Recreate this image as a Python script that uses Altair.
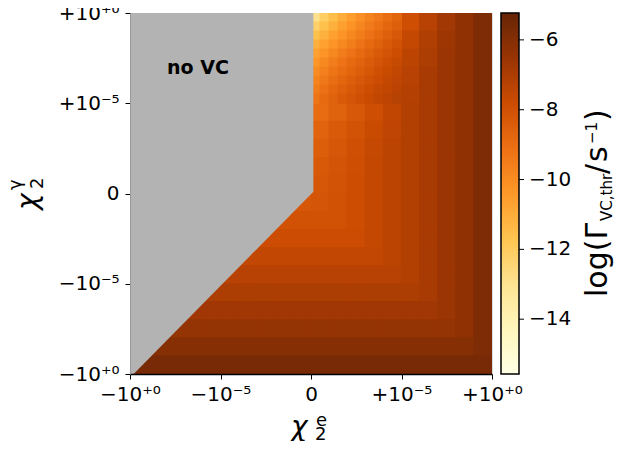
import altair as alt
import numpy as np
import pandas as pd

# ---- data -----------------------------------------------------------------
# cell centres in symlog axis units (-10 = -10^0, -5 = -10^-5, 0, +5 = +10^-5, +10 = +10^0)
U_CENTERS = [-9.5, -8.5, -7.5, -6.5, -5.5, -4.5, -3.5, -2.5, -1.5, -0.5,
             0.5, 1.5, 2.5, 3.5, 4.5, 5.5, 6.5, 7.5, 8.5, 9.5]
V_UPPER = [9.5, 8.5, 7.5, 6.5, 5.5, 4.5, 3.5, 2.5, 1.5, 0.5]
V_LOWER = [-0.5, -1.5, -2.5, -3.5, -4.5, -5.5, -6.5, -7.5, -8.5, -9.5]

N = None
# log(Gamma) for chi_e > 0, chi_gamma > 0 (columns u = 0.5 .. 9.5);
# None = given at finer resolution in Z_TOPLEFT
Z_UPPER = [
    [N, N, N, N, N, -7.9, -7.3, -6.75, -6.3, -5.85],
    [N, N, N, N, N, -7.6, -7.1, -6.65, -6.3, -5.85],
    [N, N, N, N, N, -7.4, -7.0, -6.6, -6.3, -5.85],
    [N, N, N, N, N, -7.3, -6.9, -6.6, -6.3, -5.85],
    [N, N, N, N, N, -7.2, -6.9, -6.6, -6.3, -5.85],
    [-8.95, -8.6, -8.25, -7.9, -7.5, -7.15, -6.9, -6.6, -6.3, -5.85],
    [-8.65, -8.35, -8.05, -7.75, -7.45, -7.15, -6.9, -6.6, -6.3, -5.85],
    [-8.45, -8.2, -7.95, -7.65, -7.4, -7.15, -6.9, -6.6, -6.3, -5.85],
    [-8.3, -8.1, -7.9, -7.6, -7.4, -7.15, -6.9, -6.6, -6.3, -5.85],
    [-8.2, -8.05, -7.85, -7.6, -7.4, -7.15, -6.9, -6.6, -6.3, -5.85],
]

# finer cells in the light corner (u = 0.25 .. 4.75, v = 9.75 .. 5.25)
U_FINE = [0.25, 0.75, 1.25, 1.75, 2.25, 2.75, 3.25, 3.75, 4.25, 4.75]
V_FINE = [9.75, 9.25, 8.75, 8.25, 7.75, 7.25, 6.75, 6.25, 5.75, 5.25]
Z_TOPLEFT = [
    [-12.9, -12.1, -11.5, -11.0, -10.5, -10.1, -9.7, -9.35, -9.0, -8.7],
    [-12.2, -11.6, -11.1, -10.6, -10.2, -9.8, -9.45, -9.1, -8.8, -8.5],
    [-11.6, -11.1, -10.65, -10.25, -9.85, -9.5, -9.15, -8.85, -8.55, -8.25],
    [-11.1, -10.65, -10.25, -9.9, -9.55, -9.2, -8.9, -8.6, -8.3, -8.0],
    [-10.65, -10.25, -9.85, -9.5, -9.2, -8.9, -8.6, -8.35, -8.1, -7.85],
    [-10.3, -9.9, -9.55, -9.2, -8.9, -8.65, -8.4, -8.15, -7.9, -7.7],
    [-10.0, -9.6, -9.25, -8.95, -8.7, -8.45, -8.2, -7.95, -7.75, -7.55],
    [-9.75, -9.35, -9.0, -8.75, -8.5, -8.25, -8.0, -7.8, -7.6, -7.45],
    [-9.5, -9.1, -8.8, -8.55, -8.3, -8.05, -7.85, -7.65, -7.5, -7.35],
    [-9.25, -8.9, -8.6, -8.35, -8.15, -7.95, -7.75, -7.55, -7.4, -7.25],
]

# log(Gamma) for chi_gamma < 0 (columns u = -9.5 .. 9.5); None = hidden under "no VC"
Z_LOWER = [
    [N, N, N, N, N, N, N, N, -8.2, -8.2,
     -8.15, -8.0, -7.85, -7.6, -7.4, -7.15, -6.9, -6.6, -6.3, -5.85],
    [N, N, N, N, N, N, N, -8.0, -8.0, -8.0,
     -8.0, -8.0, -7.85, -7.6, -7.4, -7.15, -6.9, -6.6, -6.3, -5.85],
    [N, N, N, N, N, N, -7.8, -7.8, -7.8, -7.8,
     -7.8, -7.8, -7.8, -7.6, -7.4, -7.15, -6.9, -6.6, -6.3, -5.85],
    [N, N, N, N, N, -7.55, -7.55, -7.55, -7.55, -7.55,
     -7.55, -7.55, -7.55, -7.55, -7.4, -7.15, -6.9, -6.6, -6.3, -5.85],
    [N, N, N, N, -7.3, -7.3, -7.3, -7.3, -7.3, -7.3,
     -7.3, -7.3, -7.3, -7.3, -7.3, -7.15, -6.9, -6.6, -6.3, -5.85],
    [N, N, N, -7.0, -7.0, -7.0, -7.0, -7.0, -7.0, -7.0,
     -7.0, -7.0, -7.0, -7.0, -7.0, -7.0, -6.9, -6.6, -6.3, -5.85],
    [N, N, -6.7, -6.7, -6.7, -6.7, -6.7, -6.7, -6.7, -6.7,
     -6.7, -6.7, -6.7, -6.7, -6.7, -6.7, -6.7, -6.6, -6.3, -5.85],
    [N, -6.4, -6.4, -6.4, -6.4, -6.4, -6.4, -6.4, -6.4, -6.4,
     -6.4, -6.4, -6.4, -6.4, -6.4, -6.4, -6.4, -6.4, -6.3, -5.85],
    [-6.05, -6.05, -6.05, -6.05, -6.05, -6.05, -6.05, -6.05, -6.05, -6.05,
     -6.05, -6.05, -6.05, -6.05, -6.05, -6.05, -6.05, -6.05, -6.05, -5.85],
    [-5.65, -5.65, -5.65, -5.65, -5.65, -5.65, -5.65, -5.65, -5.65, -5.65,
     -5.65, -5.65, -5.65, -5.65, -5.65, -5.65, -5.65, -5.65, -5.65, -5.65],
]

# boundary of the "no VC" region (lower edge, filled up to the top)
MASK_U = [-10.0, -9.8, 0.13]
MASK_V = [-10.0, -10.0, 0.1]

AXIS_TICKS = [-10, -5, 0, 5, 10]
AXIS_LABELS = ["−10⁺⁰", "−10⁻⁵", "0", "+10⁻⁵", "+10⁺⁰"]
CB_MIN, CB_MAX = -15.57, -5.23
CB_TICKS = [-14, -12, -10, -8, -6]
CB_LABELS = ["−14", "−12", "−10", "−8", "−6"]

YLORBR = ["#ffffe5", "#fff7bc", "#fee391", "#fec44f", "#fe9929",
          "#ec7014", "#cc4c02", "#993404", "#662506"]
FONT = "DejaVu Sans"
OVERLAP = 0.03  # tiny overlap so neighbouring cells leave no hairline seams

# ---- tables ----------------------------------------------------------------
cells = []


def add(us, vs, rows, half):
    for v, row in zip(vs, rows):
        for u, z in zip(us, row):
            if z is not None:
                h = half + OVERLAP
                cells.append(dict(u0=u - h, u1=u + h, v0=v - h, v1=v + h, val=z))


add(U_CENTERS[10:], V_UPPER, Z_UPPER, 0.5)
add(U_CENTERS, V_LOWER, Z_LOWER, 0.5)
add(U_FINE, V_FINE, Z_TOPLEFT, 0.25)
cells = pd.DataFrame(cells)
mask = pd.DataFrame({"u0": MASK_U, "v0": MASK_V})
one = pd.DataFrame({"k": [0]})
cb_ticks = pd.DataFrame({"t": CB_TICKS, "lab": CB_LABELS})

label_expr = " : ".join(
    f"datum.value == {t} ? '{l}'" for t, l in zip(AXIS_TICKS, AXIS_LABELS)
) + " : ''"

W, H = 362, 361
sx = alt.Scale(domain=[-10, 10], nice=False, zero=False)
sy = alt.Scale(domain=[-10, 10], nice=False, zero=False)
common_axis = dict(values=AXIS_TICKS, labelExpr=label_expr, title=None, grid=False,
                   tickColor="black", tickSize=5, tickWidth=1, labelFont=FONT,
                   labelFontSize=20, labelColor="black", labelOverlap=False,
                   labelFlush=False, labelBound=False, zindex=1)
xaxis = alt.Axis(**common_axis, domainColor="black", domainWidth=1.5, labelPadding=5)
yaxis = alt.Axis(**common_axis, domainColor="#999999", domainWidth=1, labelPadding=6)

cdomain = list(np.linspace(CB_MIN, CB_MAX, len(YLORBR)))
cscale = alt.Scale(domain=cdomain, range=YLORBR, interpolate="rgb", clamp=True)

X = lambda f: alt.X(f, scale=sx, axis=xaxis)
Y = lambda f: alt.Y(f, scale=sy, axis=yaxis)

heat = alt.Chart(cells).mark_rect(clip=True, strokeWidth=0).encode(
    x=X("u0:Q"), x2="u1", y=Y("v0:Q"), y2="v1",
    color=alt.Color("val:Q", scale=cscale, legend=None),
)

gray = alt.Chart(mask).mark_area(color="#b3b3b3", opacity=1).encode(
    x=X("u0:Q"), y=Y("v0:Q"), y2=alt.datum(10),
)


def txt(text, x, y, size, angle=0, weight="normal", style="normal"):
    return alt.Chart(one).mark_text(
        text=text, font=FONT, fontSize=size, angle=angle, align="left",
        baseline="alphabetic", color="black", fontWeight=weight, fontStyle=style,
    ).encode(x=alt.value(x), y=alt.value(y))


novc = alt.Chart(one).mark_text(
    text="no VC", font=FONT, fontSize=19, fontWeight="bold", align="left",
    baseline="middle", color="black",
).encode(x=alt.value(37), y=alt.value(55))

xtitle = [txt("χ", 161, 423, 28, style="italic"), txt("2", 185, 427, 18),
          txt("e", 186, 413, 18)]
ytitle = [txt("χ", -93, 197, 28, angle=270, style="italic"),
          txt("2", -87, 176, 18, angle=270),
          txt("γ", -109, 177, 18, angle=270)]

# ---- colour bar (drawn beside the plot, in pixel units) --------------------
CB_X0, CB_X1 = 371, 389
grad = {
    "gradient": "linear", "x1": 0, "y1": 1, "x2": 0, "y2": 0,
    "stops": [{"offset": i / (len(YLORBR) - 1), "color": c} for i, c in enumerate(YLORBR)],
}
cbar = alt.Chart(one).mark_rect(fill=grad, stroke="black", strokeWidth=1.5).encode(
    x=alt.value(CB_X0), x2=alt.value(CB_X1), y=alt.value(0), y2=alt.value(H),
)
cb_pos = f"{H} * ({CB_MAX} - datum.t) / ({CB_MAX} - {CB_MIN})"
cb_tick_marks = alt.Chart(cb_ticks).transform_calculate(py=cb_pos).mark_rule(
    color="black", strokeWidth=1
).encode(
    x=alt.value(CB_X1), x2=alt.value(CB_X1 + 5),
    y=alt.Y("py:Q", scale=None, axis=None),
)
cb_tick_labels = alt.Chart(cb_ticks).transform_calculate(py=cb_pos).mark_text(
    font=FONT, fontSize=20, align="left", baseline="middle", color="black"
).encode(
    x=alt.value(CB_X1 + 10), y=alt.Y("py:Q", scale=None, axis=None), text="lab:N",
)
cbtitle = [
    txt("log(Γ", CB_X0 + 106, 284, 30, angle=270),
    txt("VC,thr", CB_X0 + 111, 208, 15, angle=270),
    txt("/", CB_X0 + 106, 161, 30, angle=270),
    txt("s", CB_X0 + 106, 149, 30, angle=270),
    txt("−1", CB_X0 + 96, 131, 15, angle=270),
    txt(")", CB_X0 + 106, 108, 30, angle=270),
]

chart = alt.layer(
    heat, gray, novc, *xtitle, *ytitle, cbar, cb_tick_marks, cb_tick_labels, *cbtitle
).properties(
    width=W, height=H,
    view=alt.ViewConfig(stroke="#dddddd", strokeWidth=1),
    autosize=alt.AutoSizeParams(type="none"),
    padding={"left": 122, "top": 5, "right": 135, "bottom": 67},
).configure(background="white")

chart.save("out.html", embed_options={"renderer": "svg", "actions": False})
